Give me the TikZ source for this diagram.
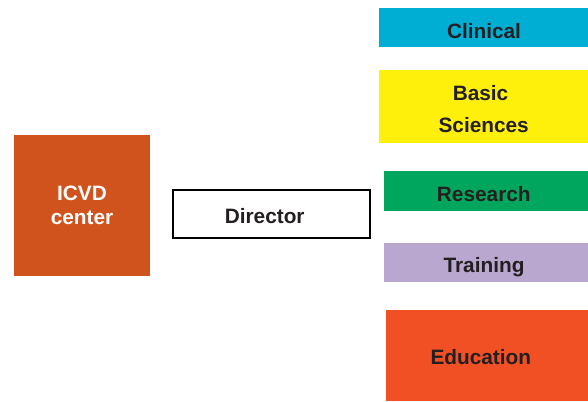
\documentclass[tikz,border=0pt]{standalone}
\usepackage{fontspec}
\setmainfont{Liberation Sans}
\definecolor{icvd}{HTML}{D0531E}
\definecolor{clin}{HTML}{00AED4}
\definecolor{basic}{HTML}{FFF00C}
\definecolor{resc}{HTML}{00A65D}
\definecolor{train}{HTML}{B9A7CF}
\definecolor{educ}{HTML}{F05023}
\definecolor{txt}{HTML}{231F20}
\begin{document}
\begin{tikzpicture}[x=1pt,y=-1pt,
  box/.style={rectangle,inner sep=0pt,outer sep=0pt,anchor=north west},
  lbl/.style={inner sep=0pt,anchor=base,font=\fontsize{20.8}{25}\selectfont\bfseries,text=txt}]
\useasboundingbox (0,0) rectangle (588,401);
% boxes
\node[box,fill=icvd,minimum width=136pt,minimum height=141pt] (icvd) at (14,135) {};
\node[box,draw=black,line width=2pt,fill=white,minimum width=197pt,minimum height=48pt] (dir) at (173,190) {};
\node[box,fill=clin,minimum width=209pt,minimum height=39pt] (clin) at (379,8) {};
\node[box,fill=basic,minimum width=209pt,minimum height=73pt] (basic) at (379,70) {};
\node[box,fill=resc,minimum width=204pt,minimum height=40pt] (resc) at (384,171) {};
\node[box,fill=train,minimum width=204pt,minimum height=39pt] (train) at (384,243) {};
\node[box,fill=educ,minimum width=202pt,minimum height=91pt] (educ) at (386,310) {};
% labels
\node[lbl,text=white] (t1) at (82,200) {ICVD};
\node[lbl,text=white] (t2) at (82,224.3) {center};
\node[lbl] (t3) at (264.7,223.3) {Director};
\node[lbl] (t4) at (484,39) {Clinical};
\node[lbl] (t5) at (480.5,100) {Basic};
\node[lbl] (t6) at (483.7,132.7) {Sciences};
\node[lbl] (t7) at (483.8,201.3) {Research};
\node[lbl] (t8) at (484,272.7) {Training};
\node[lbl] (t9) at (480.8,364) {Education};
\end{tikzpicture}
\end{document}
